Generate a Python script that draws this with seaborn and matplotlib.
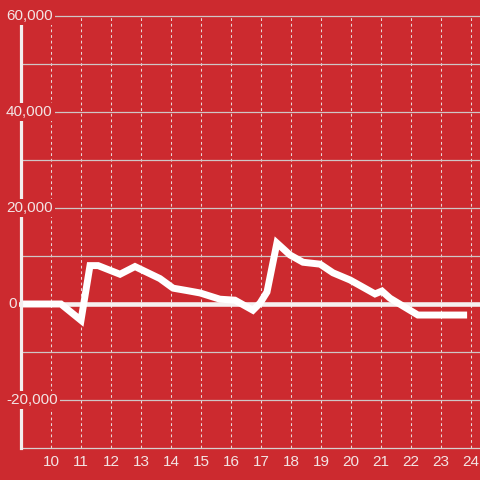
import pandas as pd
import numpy as np
import matplotlib
matplotlib.use("Agg")
import matplotlib.pyplot as plt
import matplotlib.transforms as mtransforms
import seaborn as sns

# dados (hora do dia, valor)
horas = [9.0, 10.33, 11.0, 11.3, 11.57, 12.3, 12.8, 13.63, 14.07, 14.53,
         14.97, 15.63, 16.13, 16.73, 16.97, 17.2, 17.53, 17.97, 18.4, 18.97,
         19.4, 19.97, 20.8, 21.03, 21.3, 22.23, 23.87]
valores = [0, 0, -3400, 8000, 8000, 6200, 7800, 5300, 3300, 2800,
           2300, 1000, 800, -1300, 200, 2500, 12700, 10200, 8700, 8300,
           6500, 5000, 2100, 2700, 1200, -2300, -2300]

x_ticks = list(range(10, 25))
y_ticks = [-20000, 0, 20000, 40000, 60000]
y_ticks_menores = [-10000, 10000, 30000, 50000]

VERMELHO = "#cc2a2f"
TEXTO = "#f3e4e4"


def main():
    df = pd.DataFrame({"hora": horas, "valor": valores})

    sns.set_style("white")
    plt.rcParams["font.family"] = ["Liberation Sans", "DejaVu Sans"]

    fig = plt.figure(figsize=(4.8, 4.8), dpi=100, facecolor=VERMELHO)
    ax = fig.add_axes([21 / 480, 32 / 480, 1 - 21 / 480, 432 / 480])
    ax.set_facecolor(VERMELHO)

    # grade vertical pontilhada
    for h in x_ticks:
        ax.axvline(h, color="#e8d8d8", lw=0.75, ls=(0, (2.7, 2.7)), zorder=1)

    # grade horizontal
    for v in y_ticks + y_ticks_menores:
        if v == 0:
            continue
        ax.axhline(v, color="#cfc6c6", lw=0.9, zorder=1, clip_on=False)

    # linha do zero
    ax.axhline(0, xmin=-4 / 459, xmax=1, color="#f6f0f0", lw=3.3,
               zorder=2, clip_on=False)

    sns.lineplot(data=df, x="hora", y="valor", ax=ax, color="white",
                 lw=5, zorder=3)
    for ln in ax.get_lines()[-1:]:
        ln.set_solid_capstyle("butt")
        ln.set_solid_joinstyle("miter")

    ax.set_xlim(9, 24.3)
    ax.set_ylim(-30000, 60000)

    ax.set_xticks(x_ticks)
    ax.set_xticklabels([str(h) for h in x_ticks])
    ax.set_yticks(y_ticks)
    ax.set_yticklabels([])
    ax.tick_params(axis="x", length=0, pad=5, labelsize=11, colors=TEXTO)
    ax.tick_params(axis="y", length=0)

    # rótulos do eixo y com fundo vermelho, por cima do eixo e da grade
    trans = mtransforms.blended_transform_factory(ax.transAxes, ax.transData)
    for v in y_ticks:
        xpos = -13 / 459 if v == 0 else -15 / 459
        ax.text(xpos, v, f"{v:,}", transform=trans, ha="left", va="center",
                fontsize=11, color=TEXTO, zorder=10, clip_on=False,
                bbox=dict(facecolor=VERMELHO, edgecolor="none", pad=1.5))

    ax.set_xlabel("")
    ax.set_ylabel("")

    for lado in ["top", "right"]:
        ax.spines[lado].set_visible(False)
    ax.spines["left"].set_color("#f3eeee")
    ax.spines["left"].set_linewidth(2.3)
    ax.spines["left"].set_zorder(4)
    ax.spines["bottom"].set_color("#d8d0d0")
    ax.spines["bottom"].set_linewidth(0.9)

    fig.savefig("out.png", dpi=100, facecolor=VERMELHO)


if __name__ == "__main__":
    main()
